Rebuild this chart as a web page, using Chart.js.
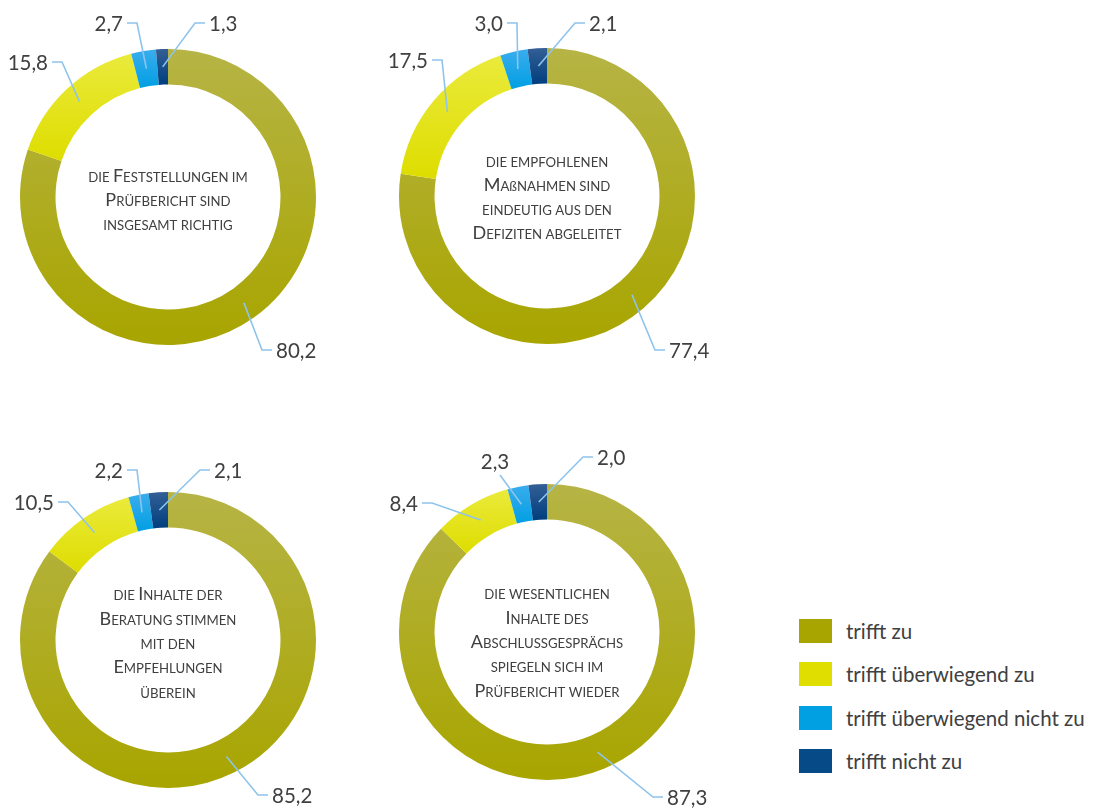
<!DOCTYPE html>
<html lang="de">
<head>
<meta charset="utf-8">
<title>Bewertung des Prüfberichts</title>
<script src="https://cdn.jsdelivr.net/npm/chart.js@4.4.1/dist/chart.umd.min.js"></script>
<style>
  html, body { margin: 0; padding: 0; background: #fff; }
  #stage { position: relative; width: 1095px; height: 808px; overflow: hidden; font-family: Lato, "Open Sans", sans-serif; }
  .donut { position: absolute; width: 380px; height: 380px; }
  #legend { position: absolute; left: 799px; top: 619px; }
  .legend-row { display: flex; align-items: center; height: 24px; margin-bottom: 19.3px; }
  .legend-box { width: 33px; height: 24px; margin-right: 14px; }
  .legend-text { font-size: 20.5px; color: #404040; white-space: nowrap; }
</style>
</head>
<body>
<div id="stage">
  <div class="donut" style="left:-22px; top:7px"><canvas id="c1" width="380" height="380"></canvas></div>
  <div class="donut" style="left:357px; top:6px"><canvas id="c2" width="380" height="380"></canvas></div>
  <div class="donut" style="left:-22px; top:450px"><canvas id="c3" width="380" height="380"></canvas></div>
  <div class="donut" style="left:357px; top:442px"><canvas id="c4" width="380" height="380"></canvas></div>
  <div id="legend"></div>
</div>
<script>
const categories = ["trifft zu", "trifft überwiegend zu", "trifft überwiegend nicht zu", "trifft nicht zu"]

const valuesFeststellungen = [80.2, 15.8, 2.7, 1.3]
const valuesMassnahmen = [77.4, 17.5, 3.0, 2.1]
const valuesBeratung = [85.2, 10.5, 2.2, 2.1]
const valuesAbschluss = [87.3, 8.4, 2.3, 2.0]

const textFeststellungen = ["die Feststellungen im", "Prüfbericht sind", "insgesamt richtig"]
const textMassnahmen = ["die empfohlenen", "Maßnahmen sind", "eindeutig aus den", "Defiziten abgeleitet"]
const textBeratung = ["die Inhalte der", "Beratung stimmen", "mit den", "Empfehlungen", "überein"]
const textAbschluss = ["die wesentlichen", "Inhalte des", "Abschlussgesprächs", "spiegeln sich im", "Prüfbericht wieder"]

// segment colours: [top of gradient, bottom of gradient]
const segmentColors = [
  ["#b6b445", "#a8a500"],
  ["#eaea3c", "#dedd00"],
  ["#3aaded", "#009fe3"],
  ["#335f95", "#003e7e"],
]
const legendColors = ["#a8a400", "#e0dd00", "#00a0e3", "#064a88"]

const textColor = "#404040"
const leaderColor = "#8ec4ec"

function formatValue(v) {
  return v.toFixed(1).replace(".", ",")
}

// vertical gradient spanning the bounding box of one ring segment
function segmentFill(context) {
  const chart = context.chart
  const area = chart.chartArea
  const pair = segmentColors[context.dataIndex]
  if (!area) return pair[1]
  const values = context.dataset.data
  const total = values.reduce((a, b) => a + b, 0)
  const before = values.slice(0, context.dataIndex).reduce((a, b) => a + b, 0)
  const start = (before / total) * Math.PI * 2 - Math.PI / 2
  const end = start + (values[context.dataIndex] / total) * Math.PI * 2
  const cy = (area.top + area.bottom) / 2
  const r = Math.min(area.width, area.height) / 2
  let top = Infinity
  let bottom = -Infinity
  for (let k = 0; k <= 60; k++) {
    const a = start + ((end - start) * k) / 60
    for (const rr of [r * 0.76, r]) {
      const y = cy + Math.sin(a) * rr
      top = Math.min(top, y)
      bottom = Math.max(bottom, y)
    }
  }
  if (bottom - top < 1) return pair[1]
  const g = chart.ctx.createLinearGradient(0, top, 0, bottom)
  g.addColorStop(0, pair[0])
  g.addColorStop(1, pair[1])
  return g
}

// split a line into runs of real capitals and small capitals
function smallCapsRuns(text) {
  const runs = []
  for (const ch of text) {
    const big = ch !== ch.toLowerCase()
    const glyph = big || ch === "ß" ? ch : ch.toUpperCase()
    const last = runs[runs.length - 1]
    if (last && last.big === big) last.text += glyph
    else runs.push({ big, text: glyph })
  }
  return runs
}

const centerText = {
  id: "centerText",
  afterDraw(chart, args, opts) {
    const { ctx, chartArea } = chart
    const cx = (chartArea.left + chartArea.right) / 2
    const cy = (chartArea.top + chartArea.bottom) / 2 + opts.offset
    const bigFont = "18px Lato"
    const smallFont = "13.2px Lato"
    const lineHeight = 24.3
    ctx.save()
    ctx.fillStyle = textColor
    ctx.textBaseline = "alphabetic"
    ctx.textAlign = "left"
    opts.lines.forEach((line, i) => {
      const runs = smallCapsRuns(line)
      let width = 0
      runs.forEach((run) => {
        ctx.font = run.big ? bigFont : smallFont
        run.w = ctx.measureText(run.text).width
        width += run.w
      })
      const baseline = cy + (i - (opts.lines.length - 1) / 2) * lineHeight + 6
      let x = cx - width / 2
      runs.forEach((run) => {
        ctx.font = run.big ? bigFont : smallFont
        ctx.fillText(run.text, x, baseline)
        x += run.w
      })
    })
    ctx.restore()
  },
}

const leaderLabels = {
  id: "leaderLabels",
  afterDatasetsDraw(chart, args, opts) {
    const { ctx } = chart
    const meta = chart.getDatasetMeta(0)
    const values = chart.data.datasets[0].data
    ctx.save()
    ctx.font = "20.5px Lato"
    ctx.fillStyle = textColor
    ctx.strokeStyle = leaderColor
    ctx.lineWidth = 1.6
    meta.data.forEach((arc, i) => {
      const p = arc.getProps(["x", "y", "startAngle", "endAngle", "innerRadius", "outerRadius"], true)
      const mid = (p.startAngle + p.endAngle) / 2
      const rm = (p.innerRadius + p.outerRadius) / 2
      const sx = p.x + Math.cos(mid) * rm
      const sy = p.y + Math.sin(mid) * rm
      const [dx, dy, side] = opts.anchors[i]
      const ex = p.x + dx
      const ey = p.y + dy
      const tx = ex + side * 10
      ctx.beginPath()
      ctx.moveTo(sx, sy)
      ctx.lineTo(ex, ey)
      if (side !== 0) ctx.lineTo(tx, ey)
      ctx.stroke()
      const label = formatValue(values[i])
      if (side === 0) {
        ctx.textAlign = "center"
        ctx.textBaseline = "bottom"
        ctx.fillText(label, ex - 5, ey - 2)
      } else {
        ctx.textAlign = side > 0 ? "left" : "right"
        ctx.textBaseline = "middle"
        ctx.fillText(label, tx + side * 4, ey + 1)
      }
    })
    ctx.restore()
  },
}

function makeDonut(id, values, lines, anchors, textOffset) {
  return new Chart(document.getElementById(id), {
    type: "doughnut",
    data: {
      labels: categories,
      datasets: [
        {
          data: values,
          backgroundColor: segmentFill,
          borderWidth: 0,
        },
      ],
    },
    options: {
      responsive: false,
      animation: false,
      events: [],
      cutout: "76%",
      layout: { padding: 42 },
      plugins: {
        legend: { display: false },
        tooltip: { enabled: false },
        centerText: { lines, offset: textOffset },
        leaderLabels: { anchors },
      },
    },
    plugins: [centerText, leaderLabels],
  })
}

// elbow points of the leader lines, relative to the ring centre
makeDonut("c1", valuesFeststellungen, textFeststellungen,
  [[94, 153, 1], [-106, -135, -1], [-31, -174, -1], [27, -174, 1]], 3)
makeDonut("c2", valuesMassnahmen, textMassnahmen,
  [[108, 154, 1], [-105, -136, -1], [-30, -173, -1], [28, -173, 1]], 1)
makeDonut("c3", valuesBeratung, textBeratung,
  [[90, 155, 1], [-100, -138, -1], [-31, -170, -1], [32, -170, 1]], 3)
makeDonut("c4", valuesAbschluss, textAbschluss,
  [[106, 165, 1], [-115, -129, -1], [-47, -157, 0], [36, -175, 1]], 10)

const legend = document.getElementById("legend")
categories.forEach((name, i) => {
  const row = document.createElement("div")
  row.className = "legend-row"
  row.innerHTML = `<div class="legend-box" style="background:${legendColors[i]}"></div><span class="legend-text">${name}</span>`
  legend.appendChild(row)
})
</script>
</body>
</html>
